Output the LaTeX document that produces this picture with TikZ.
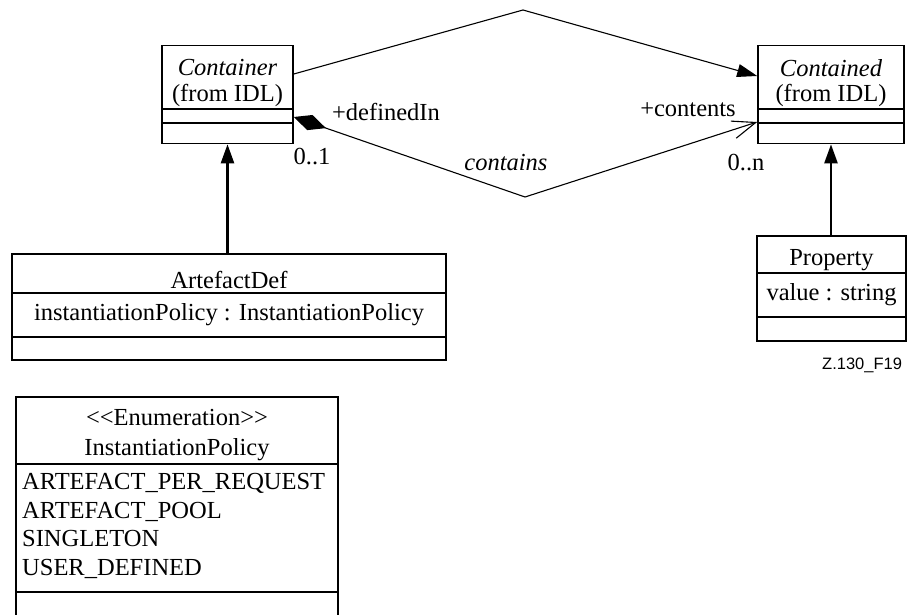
\documentclass[tikz,border=0pt]{standalone}
\usepackage{fontspec}
\setmainfont{Liberation Serif}
\newfontfamily\figsans{Liberation Sans}
\usetikzlibrary{arrows.meta}
\begin{document}
\begin{tikzpicture}[x=1pt, y=-1pt,
  font=\fontsize{24.5}{28.5}\selectfont,
  classbox/.style={draw, line width=1.6pt, inner sep=0pt},
  divider/.style={line width=1.3pt},
  txt/.style={inner sep=0pt, anchor=center},
  assoc/.style={line width=1.1pt},
  gen/.style={line width=2.4pt, -{Triangle[length=19pt,width=13pt]}}]
  \clip (0,0) rectangle (908,615);
  \fill[white] (0,0) rectangle (908,615);

  % class boxes
  \node[classbox, minimum width=131pt, minimum height=98pt] (container) at (227.5,94.5) {};
  \node[classbox, minimum width=146pt, minimum height=98pt] (contained) at (831,94.5) {};
  \node[classbox, minimum width=434pt, minimum height=106pt] (artefact) at (229,307) {};
  \node[classbox, minimum width=149pt, minimum height=105pt] (property) at (831.5,288.5) {};
  \node[classbox, minimum width=322pt, minimum height=250pt] (enum) at (177,522) {};

  % compartment lines
  \draw[divider] (container.west |- 0,109) -- (container.east |- 0,109);
  \draw[divider] (container.west |- 0,123) -- (container.east |- 0,123);
  \draw[divider] (contained.west |- 0,109) -- (contained.east |- 0,109);
  \draw[divider] (contained.west |- 0,123) -- (contained.east |- 0,123);
  \draw[divider] (artefact.west |- 0,293) -- (artefact.east |- 0,293);
  \draw[divider] (artefact.west |- 0,337) -- (artefact.east |- 0,337);
  \draw[divider] (property.west |- 0,273) -- (property.east |- 0,273);
  \draw[divider] (property.west |- 0,317) -- (property.east |- 0,317);
  \draw[divider] (enum.west |- 0,464) -- (enum.east |- 0,464);
  \draw[divider] (enum.west |- 0,592) -- (enum.east |- 0,592);

  % class texts
  \node[txt] (containerName) at (227.5,68) {\itshape Container};
  \node[txt] (containerPkg) at (227.5,95) {(from IDL)};
  \node[txt] (containedName) at (831,68) {\itshape Contained};
  \node[txt] (containedPkg) at (831,95) {(from IDL)};
  \node[txt] (artefactName) at (229,280) {ArtefactDef};
  \node[txt] (artefactAttr) at (229,315) {instantiationPolicy : InstantiationPolicy};
  \node[txt] (propertyName) at (831.5,260) {Property};
  \node[txt] (propertyAttr) at (831.5,295) {value : string};
  \node[txt] (enumStereo) at (177,418) {<{}<Enumeration>{}>};
  \node[txt] (enumName) at (177,450) {InstantiationPolicy};
  \node[txt, anchor=north west, align=left, font=\fontsize{24.5}{28.7}\selectfont]
    (enumValues) at (22,473)
    {ARTEFACT\_PER\_REQUEST\\ARTEFACT\_POOL\\SINGLETON\\USER\_DEFINED};

  % association lines
  \draw[assoc, -{Triangle[length=20pt,width=13pt]}]
    (container.east |- 0,74) -- (523,10) -- (contained.west |- 0,76);
  \draw[assoc, {Diamond[length=34pt,width=16pt]}-{Straight Barb[angle=42:25pt]}]
    (container.east |- 0,117) -- (525,197) -- (contained.west |- 0,122);

  % generalisations
  \draw[gen] (container.south |- artefact.north) -- (container.south);
  \draw[gen] (contained.south |- property.north) -- (contained.south);

  % association labels
  \node[txt] (roleDefinedIn) at (386,112) {+definedIn};
  \node[txt] (multOne) at (312,157) {0..1};
  \node[txt] (assocName) at (506,163) {\itshape contains};
  \node[txt] (roleContents) at (688,110) {+contents};
  \node[txt] (multMany) at (746,163) {0..n};

  % figure tag
  \node[txt, anchor=west, font=\figsans\fontsize{16.5}{19}\selectfont] (figTag) at (822,365) {Z.130\_F19};
\end{tikzpicture}
\end{document}
